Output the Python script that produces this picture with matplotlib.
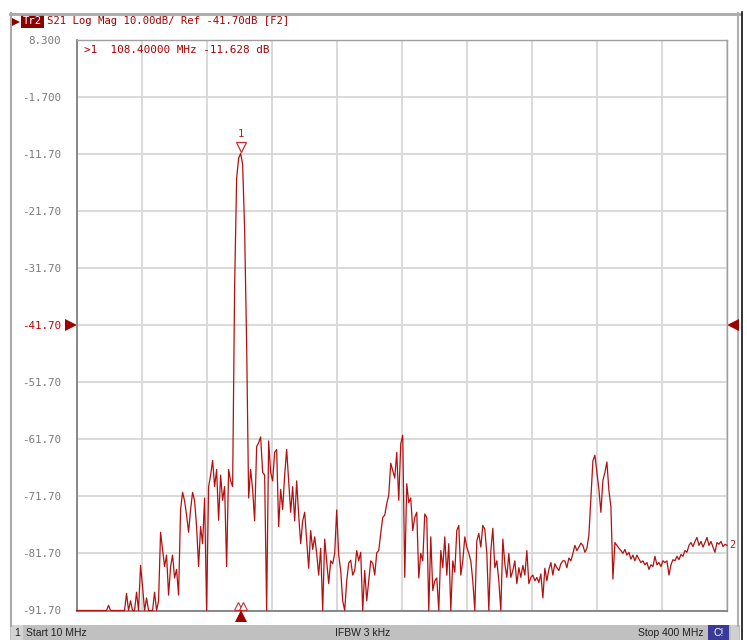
import numpy as np
import matplotlib
matplotlib.use("Agg")
import matplotlib.pyplot as plt
from matplotlib.lines import Line2D
from matplotlib.patches import Rectangle
import matplotlib.transforms as mtransforms

# ---------------- data ----------------
start_mhz = 10.0
stop_mhz = 400.0
ref_db = -41.70
scale_db = 10.0
ytick_labels = ["8.300", "-1.700", "-11.70", "-21.70", "-31.70", "-41.70",
                "-51.70", "-61.70", "-71.70", "-81.70", "-91.70"]
marker_freq = 108.4
marker_db = -11.628

s21_db = [
    -95, -95, -95, -95, -95, -95, -95, -95, -95, -95,
    -95, -95, -95, -95, -95, -95, -90.8, -95, -95, -95,
    -95, -95, -95, -95, -95, -88.7, -95, -90, -95, -93,
    -88.5, -92, -83.8, -87.5, -95, -89.5, -95, -93, -95, -88.5,
    -95, -90, -78, -81, -84, -82, -89, -84, -82, -86,
    -84.5, -89, -74, -71, -72.5, -75, -78, -74, -71, -72.5,
    -77, -84, -77, -80, -72, -95, -70, -68, -65.4, -70,
    -67, -75.9, -68, -72.4, -70, -84, -67, -69, -70, -35,
    -16, -12.5, -11.63, -13.6, -25, -45, -72, -67, -70.5, -76,
    -63, -62.3, -61.3, -67.5, -68, -95, -62, -67.5, -69, -64,
    -63.5, -77, -70.5, -74, -68, -63.5, -69, -74.5, -70, -76,
    -69, -75, -80, -76, -74.5, -79.4, -84.3, -77.7, -81, -78.8,
    -81.7, -85.5, -80.8, -95, -79.2, -83, -87, -83, -83.5, -81.7,
    -74.1, -82, -84.7, -90, -95, -86.5, -83.4, -82.9, -85.5, -84.7,
    -81.2, -83, -81.5, -95, -84.7, -90, -86.5, -83, -83.4, -85.5,
    -81.6, -81.2, -78.2, -75.4, -75, -73, -71.5, -65.9, -67.2, -68.5,
    -64, -72.4, -62.5, -61, -85.9, -69.5, -72.8, -72, -77.7, -75.4,
    -74.5, -86, -81.7, -83, -74.8, -75.4, -95, -78.8, -88.2, -86.5,
    -86, -95, -81.2, -84.2, -78.8, -85.5, -80, -95, -83, -85,
    -77.7, -76.8, -85.5, -83, -78.8, -80.6, -81.7, -83, -86.5, -95,
    -79.5, -78.2, -80.6, -76.8, -77.5, -81.7, -95, -81.3, -77.3, -84.2,
    -83, -86.5, -95, -79.2, -83.5, -85.9, -81.7, -85.9, -84.7, -83,
    -87, -84.2, -85.9, -83.8, -85.5, -81.2, -87, -85.9, -85.5, -86.5,
    -85.9, -86.8, -85.3, -89.5, -84.3, -86.5, -84.5, -83.3, -85.5, -83.5,
    -84.2, -84.7, -83.5, -83, -83, -84.2, -82.5, -83, -81.7, -80.3,
    -81.2, -80.6, -79.9, -80.3, -81.5, -80.8, -78.5, -71.9, -65.5, -64.5,
    -67.5, -70.5, -74.5, -68.9, -67.5, -65.7, -70.7, -73.5, -86.2, -79.8,
    -80.3, -80.8, -81.2, -81.7, -81, -82, -81.5, -82.7, -82, -83,
    -82, -82.7, -83.3, -83, -83.7, -83.3, -84.5, -83.7, -84, -82.2,
    -83.7, -83.3, -84, -83, -83.3, -83, -85.5, -83.7, -82.8, -83,
    -82.2, -82.8, -81.9, -82.2, -81.2, -81.5, -80.3, -79.8, -80.5, -79.6,
    -78.9, -80.3, -79.6, -80.6, -79.8, -78.9, -80.3, -79.6, -80.6, -81.5,
    -79.8, -80.1, -79.6, -80.5, -80.1, -80.3,
]

# ---------------- style ----------------
RED = "#a80000"
TRACE = "#b41010"
GRID = "#d9d9d9"
GRAYTXT = "#7a7a7a"
MONO = "DejaVu Sans Mono"

W, H = 747, 640
fig = plt.figure(figsize=(W / 100, H / 100), dpi=100)
fig.patch.set_facecolor("white")

# background / frame axes in pixel coordinates
bg = fig.add_axes([0, 0, 1, 1])
bg.set_xlim(0, W)
bg.set_ylim(H, 0)
bg.axis("off")
bg.add_line(Line2D([10, 740], [13.5, 13.5], color="#a8a8a8", lw=2.0))
bg.add_line(Line2D([10.5, 10.5], [13, 626], color="#a8a8a8", lw=1.5))
bg.add_line(Line2D([738, 738], [13, 626], color="#b0b0b0", lw=1.5))
bg.add_line(Line2D([742, 742], [12, 640], color="#101010", lw=1.2))
# status bar
bg.add_patch(Rectangle((10, 625), 730, 15, color="#c0c0c0", lw=0))
bg.add_patch(Rectangle((11, 625), 12, 15, color="#d4d4d4", lw=0))
bg.add_patch(Rectangle((708, 625), 21, 15, color="#3a3a9a", lw=0))
bg.add_patch(Rectangle((731, 625), 8, 15, color="#d0d0d0", lw=0))
bg.text(17, 633, "1", fontsize=7.5, family="Liberation Sans", ha="center", va="center", color="#202020")
bg.text(26, 633, "Start 10 MHz", fontsize=7.5, family="Liberation Sans", ha="left", va="center", color="#202020")
bg.text(363, 633, "IFBW 3 kHz", fontsize=7.5, family="Liberation Sans", ha="center", va="center", color="#202020")
bg.text(704, 633, "Stop 400 MHz", fontsize=7.5, family="Liberation Sans", ha="right", va="center", color="#202020")
bg.text(718.5, 633, "C!", fontsize=7.5, family="Liberation Sans", ha="center", va="center", color="white")
# title
bg.add_patch(Rectangle((21, 15), 23, 13, color="#8c0000", lw=0))
bg.plot([16], [21.5], marker=">", ms=6, color="#8c0000", mew=0)
bg.text(32.5, 21.5, "Tr2", fontsize=7.7, family=MONO, ha="center", va="center", color="white")
bg.text(47, 21.5, "S21 Log Mag 10.00dB/ Ref -41.70dB [F2]", fontsize=7.7,
        family=MONO, ha="left", va="center", color=RED)

# main plot axes
x0, x1 = 76.5, 727
ytop, ybot = 39.5, 610.5
ax = fig.add_axes([x0 / W, (H - ybot) / H, (x1 - x0) / W, (ybot - ytop) / H])
top_db = ref_db + 5 * scale_db
bot_db = ref_db - 5 * scale_db
ax.set_xlim(start_mhz, stop_mhz)
ax.set_ylim(bot_db, top_db)

xt = np.linspace(start_mhz, stop_mhz, 11)
yt = np.linspace(top_db, bot_db, 11)
ax.set_xticks(xt)
ax.set_yticks(yt)
ax.set_xticklabels([])
ax.set_yticklabels(ytick_labels, family=MONO, fontsize=7.8, color=GRAYTXT)
for lbl, txt in zip(ax.get_yticklabels(), ytick_labels):
    if txt == "-41.70":
        lbl.set_color("#c00000")
ax.tick_params(axis="both", length=0, pad=11)
ax.grid(True, color=GRID, lw=1.4)
ax.set_axisbelow(True)
for side in ["left", "bottom"]:
    ax.spines[side].set_color("#808080")
    ax.spines[side].set_linewidth(1.3)
for side in ["top", "right"]:
    ax.spines[side].set_color("#a0a0a0")
    ax.spines[side].set_linewidth(1.0)

freq = np.linspace(start_mhz, stop_mhz, len(s21_db))
vals = np.clip(np.array(s21_db, dtype=float), bot_db, None)
ax.plot(freq, vals, color=TRACE, lw=0.9, clip_on=False, zorder=3)

# marker 1
up = mtransforms.offset_copy(ax.transData, fig=fig, x=0, y=6, units="dots")
ax.plot([marker_freq], [marker_db], marker="v", ms=7.5, mfc="white", mec="#c03030",
        mew=0.9, transform=up, zorder=4)
ax.annotate("1", xy=(marker_freq, marker_db), xytext=(0, 19), textcoords="offset pixels",
            ha="center", va="center", fontsize=7.5, family=MONO, color="#b02020")
ax.text(0.011, 0.981, ">1  108.40000 MHz -11.628 dB", transform=ax.transAxes,
        family=MONO, fontsize=7.9, color=RED, ha="left", va="center")

# bottom marker indicators
for dx in (-2.5, 2.5):
    tr = mtransforms.offset_copy(ax.transData, fig=fig, x=dx, y=5, units="dots")
    ax.plot([marker_freq], [bot_db], marker="^", ms=5.5, mfc="white", mec="#c03030",
            mew=0.8, transform=tr, clip_on=False, zorder=5)
trb = mtransforms.offset_copy(ax.transData, fig=fig, x=0, y=-5.5, units="dots")
ax.plot([marker_freq], [bot_db], marker="^", ms=9, color="#a00000", mew=0,
        transform=trb, clip_on=False, zorder=5)

# reference level arrows
blend = mtransforms.blended_transform_factory(ax.transAxes, ax.transData)
ax.plot([-0.0085], [ref_db], marker=">", ms=9, color="#a00000", mew=0,
        transform=blend, clip_on=False)
ax.plot([1.0095], [ref_db], marker="<", ms=9, color="#a00000", mew=0,
        transform=blend, clip_on=False)
ax.annotate("2", xy=(stop_mhz, s21_db[-1]), xytext=(5, 0), textcoords="offset pixels",
            ha="center", va="center", fontsize=7.5, family=MONO, color="#b02020",
            annotation_clip=False)

fig.savefig("out.png", dpi=100, facecolor="white")
